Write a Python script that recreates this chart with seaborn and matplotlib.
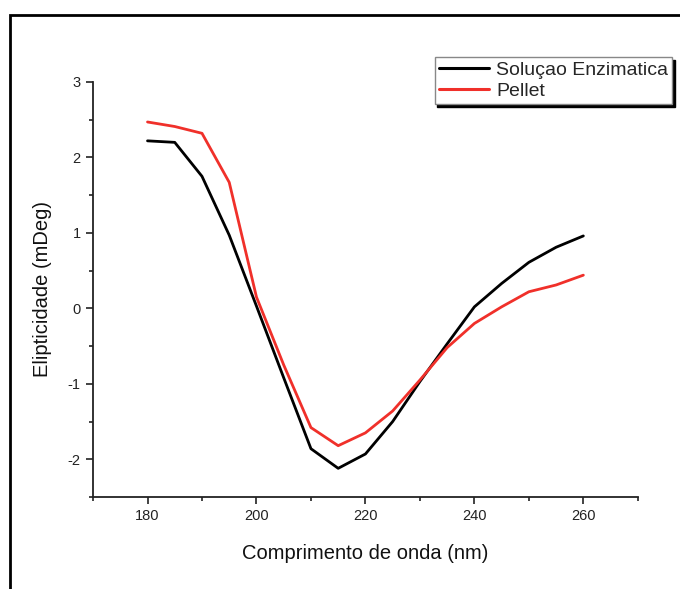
import matplotlib
matplotlib.use("Agg")
import matplotlib.pyplot as plt
import seaborn as sns
import pandas as pd
from matplotlib.patches import Rectangle
from matplotlib.ticker import MultipleLocator
from matplotlib.lines import Line2D

wavelength = [180, 185, 190, 195, 200, 205, 210, 215, 220, 225, 230, 235, 240, 245, 250, 255, 260]
solucao = [2.22, 2.20, 1.75, 0.97, 0.03, -0.92, -1.86, -2.12, -1.93, -1.50, -0.97, -0.47, 0.02, 0.33, 0.61, 0.81, 0.96]
pellet = [2.47, 2.41, 2.32, 1.67, 0.15, -0.75, -1.58, -1.82, -1.65, -1.36, -0.95, -0.52, -0.20, 0.02, 0.22, 0.31, 0.44]
series_names = ["Soluçao Enzimatica", "Pellet"]
colors = ["#000000", "#f0302a"]
x_ticks = [180, 200, 220, 240, 260]
y_ticks = [-2, -1, 0, 1, 2, 3]

df = pd.DataFrame({
    "x": wavelength * 2,
    "y": solucao + pellet,
    "serie": [series_names[0]] * len(wavelength) + [series_names[1]] * len(wavelength),
})

sns.set_theme(style="white")
plt.rcParams["font.family"] = ["Liberation Sans", "DejaVu Sans"]
plt.rcParams["axes.unicode_minus"] = False

fig = plt.figure(figsize=(6.8, 5.89), dpi=100)
ax = fig.add_axes([0.1368, 0.1562, 0.938 - 0.1368, 0.8608 - 0.1562])

sns.lineplot(data=df, x="x", y="y", hue="serie", palette=colors, ax=ax,
             linewidth=2.0, legend=False)

ax.set_xlim(170, 270)
ax.set_ylim(-2.5, 3)
ax.set_xticks(x_ticks)
ax.set_yticks(y_ticks)
ax.xaxis.set_minor_locator(MultipleLocator(10))
ax.yaxis.set_minor_locator(MultipleLocator(0.5))
ax.tick_params(which="major", direction="out", length=5, width=1.2, color="#222222",
               labelsize=10.5, labelcolor="#222222", bottom=True, left=True, pad=4)
ax.tick_params(which="minor", direction="out", length=3, width=1.2, color="#222222",
               bottom=True, left=True)
for s in ["top", "right"]:
    ax.spines[s].set_visible(False)
for s in ["left", "bottom"]:
    ax.spines[s].set_color("#222222")
    ax.spines[s].set_linewidth(1.3)

ax.set_xlabel("Comprimento de onda (nm)", fontsize=14.5, color="#111111", labelpad=15)
ax.set_ylabel("Elipticidade (mDeg)", fontsize=14.5, color="#111111", labelpad=11)

handles = [Line2D([], [], color=c, linewidth=2.2) for c in colors]
leg = fig.legend(handles, series_names, loc="upper right",
                 bbox_to_anchor=(0.988, 0.903), bbox_transform=fig.transFigure,
                 fontsize=14, frameon=True, fancybox=False, edgecolor="#888888",
                 framealpha=1, borderpad=0.2, labelspacing=0.2,
                 handlelength=2.6, handletextpad=0.35, borderaxespad=0,
                 shadow={"color": "black", "alpha": 1.0})
leg.get_frame().set_linewidth(1.0)

fig.patches.append(Rectangle((10 / 680, -0.05), 1.1, 0.05 + (1 - 15 / 589),
                             transform=fig.transFigure, fill=False,
                             edgecolor="black", linewidth=2.0, zorder=0))

fig.savefig("out.png", dpi=100)
